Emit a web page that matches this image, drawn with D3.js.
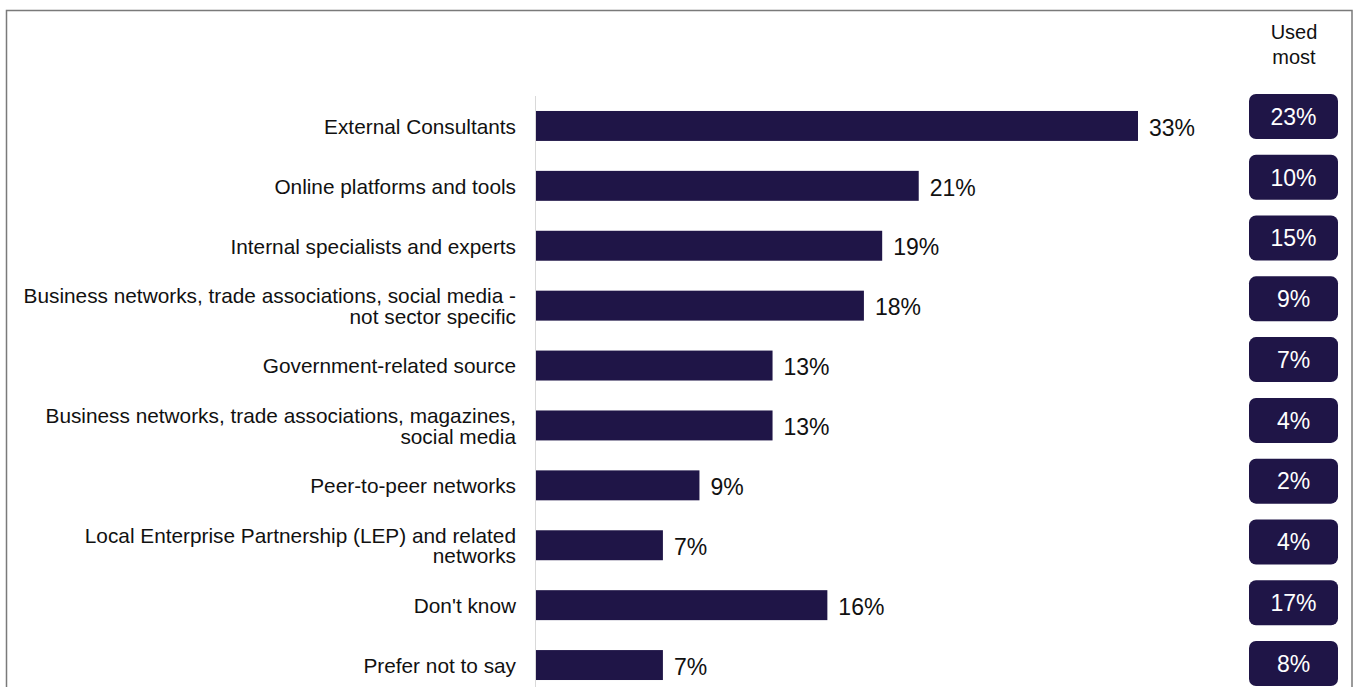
<!DOCTYPE html>
<html>
<head>
<meta charset="utf-8">
<script src="https://cdn.jsdelivr.net/npm/d3@7/dist/d3.min.js"></script>
<style>
  html, body { margin: 0; padding: 0; background: #fff; }
  svg { display: block; font-family: "Liberation Sans", Arial, sans-serif; }
</style>
</head>
<body>
<svg id="chart" width="1357" height="687"></svg>
<script>
// Sources of advice used (share of respondents) and the single source used most
const categories = [
  ["External Consultants"],
  ["Online platforms and tools"],
  ["Internal specialists and experts"],
  ["Business networks, trade associations, social media -", "not sector specific"],
  ["Government-related source"],
  ["Business networks, trade associations, magazines,", "social media"],
  ["Peer-to-peer networks"],
  ["Local Enterprise Partnership (LEP) and related", "networks"],
  ["Don't know"],
  ["Prefer not to say"]
];
const usedAny = [33, 21, 19, 18, 13, 13, 9, 7, 16, 7];
const usedMost = [23, 10, 15, 9, 7, 4, 2, 4, 17, 8];
const usedMostTitle = ["Used", "most"];

const svg = d3.select("#chart");
const navy = "#1f1547";

// frame around the chart area
svg.append("rect")
  .attr("x", 6.5).attr("y", 10.5)
  .attr("width", 1345.5).attr("height", 700)
  .attr("fill", "none").attr("stroke", "#7a7a7a").attr("stroke-width", 1.5);

const ids = categories.map((c, i) => i);
const x = d3.scaleLinear().domain([0, 33]).range([535, 1138]);
const y = d3.scaleBand().domain(ids).range([96, 695]).paddingInner(0.5).paddingOuter(0.25);

// baseline axis
svg.append("line")
  .attr("x1", 535.5).attr("x2", 535.5)
  .attr("y1", 96).attr("y2", 687)
  .attr("stroke", "#d9d9d9").attr("stroke-width", 1);

// bars
svg.selectAll("rect.bar").data(ids).enter().append("rect")
  .attr("class", "bar")
  .attr("x", x(0) + 1)
  .attr("y", i => y(i))
  .attr("width", i => x(usedAny[i]) - x(0) - 1)
  .attr("height", y.bandwidth())
  .attr("fill", navy);

// value labels
svg.selectAll("text.val").data(ids).enter().append("text")
  .attr("class", "val")
  .attr("x", i => x(usedAny[i]) + 11)
  .attr("y", i => y(i) + y.bandwidth() / 2)
  .attr("dy", "0.42em")
  .attr("font-size", 23)
  .attr("fill", "#111")
  .text(i => usedAny[i] + "%");

// category labels (one or two lines)
const lab = svg.selectAll("text.cat").data(ids).enter().append("text")
  .attr("class", "cat")
  .attr("text-anchor", "end")
  .attr("font-size", 20.8)
  .attr("fill", "#111");
lab.each(function(i) {
  const lines = categories[i];
  const cy = y(i) + y.bandwidth() / 2;
  const lh = 20.5;
  const t = d3.select(this);
  lines.forEach((ln, k) => {
    t.append("tspan")
      .attr("x", 516)
      .attr("y", cy + (k - (lines.length - 1) / 2) * lh)
      .attr("dy", "0.38em")
      .text(ln);
  });
});

// "Used most" column
const yb = d3.scalePoint().domain(ids).range([116.5, 663.5]);
const boxW = 89, boxH = 45;
svg.selectAll("text.head").data(usedMostTitle).enter().append("text")
  .attr("class", "head")
  .attr("x", 1294)
  .attr("y", (d, k) => 32 + k * 25)
  .attr("dy", "0.36em")
  .attr("text-anchor", "middle")
  .attr("font-size", 20)
  .attr("fill", "#111")
  .text(d => d);

svg.selectAll("rect.box").data(ids).enter().append("rect")
  .attr("class", "box")
  .attr("x", 1249)
  .attr("y", i => yb(i) - boxH / 2)
  .attr("width", boxW)
  .attr("height", boxH)
  .attr("rx", 7)
  .attr("fill", navy);

svg.selectAll("text.most").data(ids).enter().append("text")
  .attr("class", "most")
  .attr("x", 1249 + boxW / 2)
  .attr("y", i => yb(i))
  .attr("dy", "0.36em")
  .attr("text-anchor", "middle")
  .attr("font-size", 23)
  .attr("fill", "#fff")
  .text(i => usedMost[i] + "%");
</script>
</body>
</html>
